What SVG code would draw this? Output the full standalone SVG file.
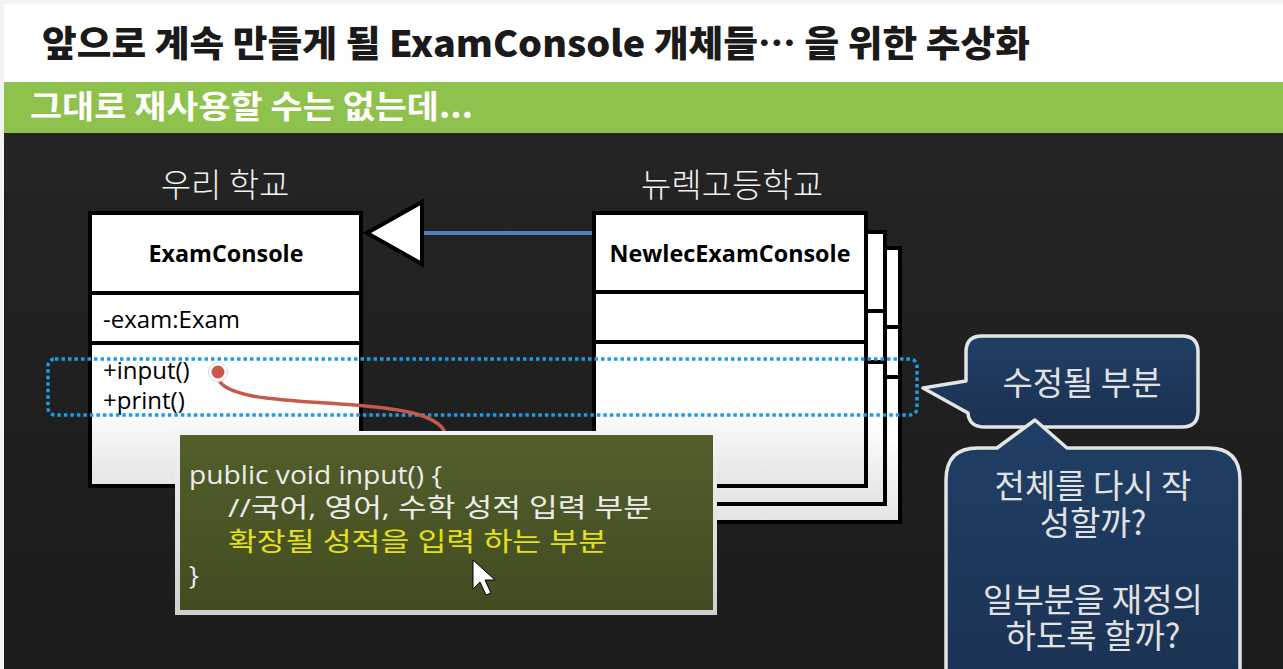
<svg xmlns="http://www.w3.org/2000/svg" width="1283" height="669" viewBox="0 0 1283 669">
<defs>
<linearGradient id="gDark" x1="0" y1="0" x2="0" y2="1"><stop offset="0" stop-color="#242424"/><stop offset="1" stop-color="#1b1b1b"/></linearGradient>
<linearGradient id="gBox" x1="0" y1="0" x2="0" y2="1"><stop offset="0.7" stop-color="#ffffff"/><stop offset="1" stop-color="#e4e4e4"/></linearGradient>
<linearGradient id="gOlive" x1="0" y1="0" x2="0" y2="1"><stop offset="0" stop-color="#525f2b"/><stop offset="1" stop-color="#414c21"/></linearGradient>
<linearGradient id="gFrame" x1="0" y1="0" x2="0" y2="1"><stop offset="0" stop-color="#f4f4f4"/><stop offset="1" stop-color="#cfcfcf"/></linearGradient>
<linearGradient id="gNavy" x1="0" y1="0" x2="0" y2="1"><stop offset="0" stop-color="#203f66"/><stop offset="1" stop-color="#1a3152"/></linearGradient>
<style>
.kr{font-family:"Noto Sans CJK KR","Noto Sans",sans-serif;}
.mix{font-family:"Open Sans","Noto Sans CJK KR",sans-serif;}
.box{fill:url(#gBox);stroke:#000;stroke-width:4;}
.div{stroke:#000;stroke-width:4;}
.cls{font-size:24px;font-weight:700;fill:#000;text-anchor:middle;}
.mem{font-size:24px;fill:#000;}
.code{font-size:26px;fill:#ececec;}
.bub{fill:url(#gNavy);stroke:#e4e4e4;stroke-width:3.5;stroke-linejoin:round;}
.btxt{font-size:33px;fill:#e2e2e2;text-anchor:middle;}
.lbl{font-size:33px;font-weight:300;fill:#f2f2f2;text-anchor:middle;}
</style>
</defs>

<!-- background -->
<rect x="0" y="0" width="1283" height="669" fill="#f3f3f3"/>
<rect x="4" y="4" width="1279" height="78" fill="#ffffff"/>
<rect x="4" y="82" width="1279" height="51" fill="#8fc24d"/>
<rect x="4" y="133" width="1279" height="536" fill="url(#gDark)"/>

<text class="kr" x="42" y="57" font-size="36" font-weight="900" fill="#1a1a1a" textLength="988" lengthAdjust="spacingAndGlyphs">앞으로 계속 만들게 될 ExamConsole 개체들… 을 위한 추상화</text>
<text class="kr" x="30" y="118" font-size="32" font-weight="700" fill="#ffffff" textLength="443" lengthAdjust="spacingAndGlyphs">그대로 재사용할 수는 없는데...</text>

<!-- labels -->
<text class="kr lbl" x="225" y="197">우리 학교</text>
<text class="kr lbl" x="732" y="197">뉴렉고등학교</text>

<!-- connectors -->
<g id="connectors">
<line x1="420" y1="233" x2="594" y2="233" stroke="#4f7fbb" stroke-width="4"/>
<polygon points="367,233 422,202 422,264" fill="#ffffff" stroke="#000" stroke-width="4" stroke-linejoin="miter"/>
</g>

<!-- ExamConsole -->
<g id="examconsole">
<rect class="box" x="90" y="213" width="271" height="273"/>
<line class="div" x1="90" y1="293" x2="361" y2="293"/>
<line class="div" x1="90" y1="343" x2="361" y2="343"/>
<text class="mix cls" x="226" y="262" textLength="155" lengthAdjust="spacingAndGlyphs">ExamConsole</text>
<text class="mix mem" x="103" y="328">-exam:Exam</text>
<text class="mix mem" x="103" y="379">+input()</text>
<text class="mix mem" x="103" y="409">+print()</text>
</g>

<!-- NewlecExamConsole stack -->
<g id="newlec-3">
<rect class="box" x="627" y="248" width="273" height="274"/>
<line class="div" x1="627" y1="327" x2="900" y2="327"/>
<line class="div" x1="627" y1="377" x2="900" y2="377"/>
</g>
<g id="newlec-2">
<rect class="box" x="612" y="232" width="273" height="272"/>
<line class="div" x1="612" y1="311" x2="885" y2="311"/>
<line class="div" x1="612" y1="362" x2="885" y2="362"/>
</g>
<g id="newlec">
<rect class="box" x="594" y="213" width="272" height="273"/>
<line class="div" x1="594" y1="292" x2="866" y2="292"/>
<line class="div" x1="594" y1="342" x2="866" y2="342"/>
<text class="mix cls" x="730" y="262" textLength="241" lengthAdjust="spacingAndGlyphs">NewlecExamConsole</text>
</g>

<!-- dotted highlight -->
<g id="highlight">
<rect x="48" y="359" width="869" height="56" rx="7" fill="none" stroke="#1a9de3" stroke-width="3.5" stroke-dasharray="3.5 3"/>
</g>

<!-- red leader -->
<g id="leader">
<path d="M218,378 C224,398 280,400 340,404 C400,408 436,414 445,432" fill="none" stroke="#c5594c" stroke-width="3.5" stroke-linecap="round"/>
<circle cx="218" cy="372" r="9.5" fill="#ffffff" stroke="#d8d8d8" stroke-width="1"/>
<circle cx="218" cy="372" r="6.5" fill="#c9574a"/>
</g>

<!-- code box -->
<g id="code">
<rect x="175" y="431" width="542" height="184" fill="url(#gFrame)"/>
<rect x="180" y="435" width="533" height="175" fill="url(#gOlive)"/>
<text class="mix code" x="189" y="484" textLength="253" lengthAdjust="spacingAndGlyphs">public void input() {</text>
<text class="mix code" x="228" y="517" textLength="424" lengthAdjust="spacingAndGlyphs">//국어, 영어, 수학 성적 입력 부분</text>
<text class="mix code" x="228" y="551" style="fill:#e6e01c" textLength="379" lengthAdjust="spacingAndGlyphs">확장될 성적을 입력 하는 부분</text>
<text class="mix code" x="189" y="584">}</text>
</g>

<!-- callouts -->
<g id="callout-modify">
<path class="bub" d="M982,336 H1182 Q1198,336 1198,352 V411 Q1198,427 1182,427 H985 Q969,427 968,413 L923,388 L966,381 V352 Q966,336 982,336 Z"/>
<text class="kr btxt" x="1082" y="395">수정될 부분</text>
</g>
<g id="callout-question">
<path class="bub" d="M978,448 H997 L1035,420 L1067,448 H1208 Q1240,448 1240,480 V700 H946 V480 Q946,448 978,448 Z"/>
<text class="kr btxt" x="1093" y="498"><tspan x="1093" y="498">전체를 다시 작</tspan><tspan x="1093" y="535">성할까?</tspan><tspan x="1093" y="612">일부분을 재정의</tspan><tspan x="1093" y="648">하도록 할까?</tspan></text>
</g>

<!-- mouse cursor -->
<polygon points="473,560 473,589 480,582 486,595 491,593 485,580 495,580" fill="#ffffff" stroke="#000" stroke-width="1"/>
</svg>
